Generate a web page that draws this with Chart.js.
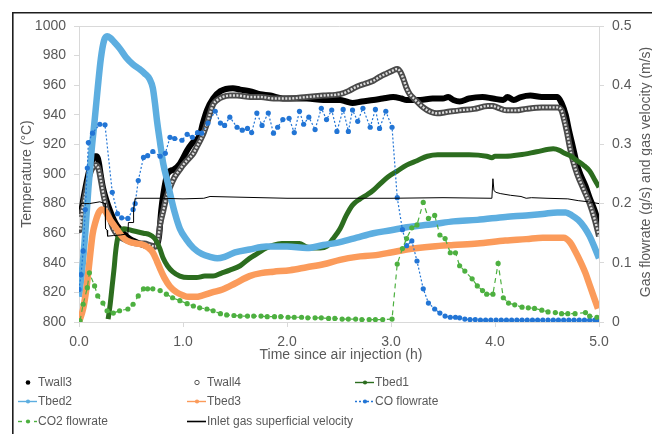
<!DOCTYPE html>
<html>
<head>
<meta charset="utf-8">
<script src="https://cdn.jsdelivr.net/npm/chart.js@4/dist/chart.umd.min.js"></script>
<style>
  html, body { margin: 0; padding: 0; background: #fff; }
  #wrap { width: 652px; height: 434px; }
</style>
</head>
<body>
<div id="wrap"><canvas id="c" width="652" height="434"></canvas></div>
<script>
// ---- axis ticks ----
const timeTicks = [0, 1, 2, 3, 4, 5];
const tempTicks = [800, 820, 840, 860, 880, 900, 920, 940, 960, 980, 1000];
const flowTicks = [0, 0.1, 0.2, 0.3, 0.4, 0.5];

// ---- wall temperatures (°C) ----
const twall3Time = [0, 0.004, 0.008, 0.012, 0.03, 0.06, 0.09, 0.12, 0.15, 0.17, 0.19, 0.21, 0.23, 0.26, 0.30, 0.35, 0.39, 0.44, 0.49, 0.55, 0.62, 0.68, 0.73, 0.75, 0.77, 0.79, 0.81, 0.85, 0.91, 0.97, 1.04, 1.09, 1.16, 1.19, 1.23, 1.29, 1.36, 1.48, 1.55, 1.64, 1.74, 1.84, 1.96, 2.10, 2.19, 2.35, 2.51, 2.57, 2.63, 2.72, 2.83, 2.92, 3.02, 3.10, 3.15, 3.28, 3.40, 3.50, 3.55, 3.60, 3.66, 3.75, 3.88, 3.98, 4.08, 4.12, 4.18, 4.25, 4.34, 4.45, 4.60, 4.64, 4.68, 4.71, 4.75, 4.79, 4.82, 4.87, 4.91, 4.96, 5.00];
const twall3Temp = [872, 864, 876, 867, 878, 890, 900, 908, 912, 912, 908, 899, 891, 883, 875, 867, 863, 859, 856, 854, 852, 851, 851, 852, 858, 875, 886, 900, 903, 907, 916, 921, 926, 934, 943, 951, 956, 958, 957, 956, 954, 953, 951, 951, 951, 950, 950, 949, 948, 949, 950, 951, 952, 951, 950, 950, 951, 951, 952, 950, 949, 951, 952, 951, 950, 952, 950, 952, 953, 952, 952, 948, 940, 930, 918, 906, 900, 892, 884, 875, 866];

const twall4Time = [0, 0.005, 0.01, 0.03, 0.05, 0.08, 0.11, 0.14, 0.17, 0.19, 0.21, 0.23, 0.26, 0.30, 0.33, 0.38, 0.43, 0.50, 0.56, 0.63, 0.68, 0.73, 0.76, 0.78, 0.81, 0.84, 0.875, 0.92, 0.97, 1.00, 1.05, 1.10, 1.13, 1.16, 1.20, 1.23, 1.26, 1.29, 1.33, 1.38, 1.45, 1.52, 1.65, 1.75, 1.87, 2.00, 2.19, 2.35, 2.51, 2.59, 2.67, 2.75, 2.83, 2.90, 2.96, 3.02, 3.06, 3.09, 3.12, 3.15, 3.18, 3.22, 3.25, 3.31, 3.38, 3.44, 3.55, 3.66, 3.80, 3.93, 3.98, 4.02, 4.11, 4.20, 4.30, 4.45, 4.60, 4.64, 4.66, 4.69, 4.72, 4.75, 4.79, 4.85, 4.91, 4.96, 5.00];
const twall4Temp = [866, 872, 862, 875, 882, 893, 901, 905, 906, 903, 896, 888, 878, 869, 863, 858, 856, 854, 853, 853, 852, 851, 856, 866, 875, 884, 891, 898, 903, 906, 910, 914, 918, 922, 928, 934, 941, 947, 950, 952, 953, 953, 952, 952, 951, 951, 952, 953, 954, 956, 959, 961, 963, 966, 968, 970, 971, 969, 964, 958, 954, 951, 949, 945, 942, 941, 942, 943, 944, 946, 946, 945, 943, 943, 944, 945, 945, 943, 938, 929, 918, 909, 900, 890, 880, 869, 858];

// ---- bed temperatures (°C) ----
const tbed1Time = [0.28, 0.30, 0.32, 0.34, 0.35, 0.37, 0.40, 0.43, 0.50, 0.56, 0.62, 0.68, 0.72, 0.75, 0.78, 0.81, 0.85, 0.90, 0.97, 1.05, 1.13, 1.21, 1.29, 1.37, 1.45, 1.55, 1.64, 1.71, 1.80, 1.87, 1.95, 2.03, 2.12, 2.18, 2.25, 2.32, 2.38, 2.44, 2.51, 2.57, 2.63, 2.70, 2.77, 2.83, 2.89, 2.97, 3.06, 3.15, 3.25, 3.35, 3.45, 3.60, 3.75, 3.92, 3.97, 4.00, 4.10, 4.24, 4.40, 4.56, 4.62, 4.67, 4.73, 4.79, 4.85, 4.91, 4.96, 5.00];
const tbed1Temp = [802, 812, 825, 838, 846, 856, 861, 863, 862, 861, 860, 859, 857, 854, 849, 843, 838, 834, 831, 830, 830, 831, 831, 833, 835, 838, 843, 846, 850, 852, 853, 853, 853, 851, 850, 850, 851, 856, 863, 872, 879, 883, 886, 889, 893, 898, 902, 906, 909, 912, 913, 913, 913, 912, 911, 912, 912, 913, 915, 917, 916, 914, 912, 909, 906, 902, 896, 891];

const tbed2Time = [0, 0.03, 0.06, 0.09, 0.12, 0.15, 0.18, 0.21, 0.24, 0.27, 0.30, 0.34, 0.39, 0.45, 0.52, 0.58, 0.63, 0.68, 0.71, 0.73, 0.75, 0.78, 0.81, 0.85, 0.875, 0.92, 0.97, 1.03, 1.10, 1.18, 1.26, 1.33, 1.40, 1.50, 1.64, 1.80, 2.00, 2.19, 2.35, 2.51, 2.67, 2.83, 3.00, 3.15, 3.40, 3.60, 3.83, 4.10, 4.30, 4.46, 4.60, 4.68, 4.74, 4.80, 4.86, 4.91, 4.96, 5.00];
const tbed2Temp = [817, 835, 860, 890, 915, 936, 958, 978, 990, 993, 992, 989, 985, 979, 974, 971, 968, 964, 958, 948, 936, 921, 907, 895, 887, 874, 863, 856, 850, 846, 844, 843, 844, 847, 849, 851, 851, 850, 852, 854, 857, 860, 862, 864, 866, 868, 869, 871, 872, 873, 874, 874, 872, 869, 864, 858, 850, 843];

const tbed3Time = [0, 0.04, 0.07, 0.09, 0.11, 0.13, 0.16, 0.19, 0.22, 0.25, 0.30, 0.35, 0.39, 0.44, 0.49, 0.56, 0.62, 0.67, 0.71, 0.75, 0.78, 0.82, 0.875, 0.94, 1.00, 1.05, 1.12, 1.19, 1.28, 1.38, 1.50, 1.64, 1.75, 1.87, 2.03, 2.19, 2.35, 2.51, 2.67, 2.83, 3.00, 3.15, 3.40, 3.60, 3.83, 4.10, 4.30, 4.46, 4.60, 4.66, 4.72, 4.77, 4.82, 4.87, 4.91, 4.95, 4.99];
const tbed3Temp = [800, 809, 822, 834, 847, 859, 868, 874, 876, 875, 869, 864, 860, 856, 854, 853, 852, 850, 847, 841, 836, 830, 824, 820, 818, 817, 817, 818, 820, 822, 826, 831, 833, 834, 835, 837, 839, 842, 844, 845, 847, 849, 851, 852, 853, 855, 856, 857, 857, 857, 854, 848, 841, 833, 825, 817, 809];

// ---- gas flowrates (g/s) ----
const coTime = [0, 0.02, 0.04, 0.06, 0.08, 0.09, 0.13, 0.20, 0.25, 0.32, 0.37, 0.41, 0.47, 0.52, 0.54, 0.57, 0.62, 0.66, 0.71, 0.78, 0.83, 0.875, 0.92, 0.99, 1.04, 1.09, 1.14, 1.18, 1.24, 1.31, 1.36, 1.40, 1.45, 1.52, 1.57, 1.62, 1.66, 1.71, 1.76, 1.82, 1.87, 1.91, 1.96, 2.02, 2.07, 2.12, 2.16, 2.21, 2.27, 2.33, 2.38, 2.43, 2.48, 2.54, 2.59, 2.63, 2.68, 2.73, 2.80, 2.85, 2.89, 2.95, 3.01, 3.06, 3.11, 3.15, 3.20, 3.25, 3.31, 3.36, 3.42, 3.47, 3.52, 3.57, 3.62, 3.66, 3.71, 3.76, 3.81, 3.86, 3.91, 3.96, 4.01, 4.06, 4.11, 4.16, 4.21, 4.26, 4.31, 4.36, 4.41, 4.46, 4.51, 4.56, 4.61, 4.66, 4.71, 4.76, 4.81, 4.86, 4.91, 4.96, 5.00];
const coFlow = [0.055, 0.08, 0.12, 0.19, 0.26, 0.303, 0.319, 0.334, 0.333, 0.219, 0.183, 0.176, 0.175, 0.19, 0.2, 0.239, 0.278, 0.281, 0.288, 0.28, 0.285, 0.312, 0.31, 0.307, 0.317, 0.312, 0.32, 0.319, 0.336, 0.356, 0.336, 0.332, 0.346, 0.329, 0.324, 0.327, 0.32, 0.353, 0.332, 0.353, 0.319, 0.329, 0.342, 0.344, 0.32, 0.356, 0.334, 0.346, 0.325, 0.361, 0.342, 0.358, 0.322, 0.359, 0.322, 0.358, 0.339, 0.361, 0.329, 0.359, 0.327, 0.356, 0.329, 0.21, 0.156, 0.129, 0.137, 0.103, 0.056, 0.032, 0.022, 0.015, 0.01, 0.008, 0.008, 0.007, 0.005, 0.004, 0.004, 0.003, 0.003, 0.003, 0.003, 0.003, 0.003, 0.003, 0.003, 0.003, 0.003, 0.003, 0.003, 0.003, 0.003, 0.003, 0.003, 0.003, 0.003, 0.003, 0.003, 0.003, 0.003, 0.003, 0.003];

const co2Time = [0.01, 0.04, 0.08, 0.10, 0.15, 0.18, 0.23, 0.27, 0.33, 0.39, 0.47, 0.52, 0.57, 0.62, 0.66, 0.71, 0.78, 0.84, 0.90, 0.97, 1.04, 1.10, 1.16, 1.23, 1.29, 1.36, 1.42, 1.49, 1.55, 1.62, 1.68, 1.75, 1.81, 1.88, 1.94, 2.01, 2.07, 2.14, 2.20, 2.27, 2.33, 2.40, 2.46, 2.53, 2.59, 2.66, 2.72, 2.79, 2.85, 2.92, 3.01, 3.06, 3.11, 3.15, 3.20, 3.25, 3.31, 3.36, 3.42, 3.47, 3.52, 3.57, 3.62, 3.66, 3.71, 3.78, 3.83, 3.88, 3.92, 3.98, 4.03, 4.08, 4.13, 4.19, 4.26, 4.32, 4.38, 4.45, 4.51, 4.58, 4.64, 4.70, 4.77, 4.87, 4.91, 4.98];
const co2Flow = [0.002, 0.03, 0.058, 0.083, 0.061, 0.044, 0.032, 0.019, 0.015, 0.019, 0.022, 0.03, 0.044, 0.056, 0.056, 0.056, 0.053, 0.047, 0.041, 0.036, 0.031, 0.027, 0.024, 0.022, 0.019, 0.014, 0.012, 0.011, 0.01, 0.01, 0.01, 0.01, 0.009, 0.009, 0.009, 0.008, 0.008, 0.008, 0.007, 0.007, 0.007, 0.006, 0.006, 0.005, 0.005, 0.005, 0.004, 0.004, 0.004, 0.004, 0.005, 0.098, 0.124, 0.141, 0.159, 0.164, 0.202, 0.175, 0.18, 0.147, 0.141, 0.117, 0.117, 0.095, 0.086, 0.073, 0.061, 0.053, 0.047, 0.047, 0.099, 0.041, 0.032, 0.029, 0.025, 0.024, 0.023, 0.02, 0.017, 0.016, 0.014, 0.014, 0.014, 0.016, 0.01, 0.008];

// ---- inlet gas superficial velocity (m/s) ----
const inletTime = [0, 0.02, 0.05, 0.10, 0.20, 0.25, 0.255, 0.27, 0.275, 0.33, 0.40, 0.47, 0.475, 0.52, 0.525, 0.54, 0.80, 1.00, 1.20, 1.26, 1.50, 2.00, 2.50, 3.00, 3.50, 3.97, 3.98, 3.99, 4.01, 4.05, 4.15, 4.25, 4.30, 4.35, 4.50, 4.70, 4.80, 4.90, 5.00];
const inletVel = [0.19, 0.2, 0.2, 0.2, 0.203, 0.2, 0.158, 0.155, 0.145, 0.146, 0.147, 0.149, 0.168, 0.168, 0.19, 0.209, 0.209, 0.208, 0.209, 0.212, 0.211, 0.209, 0.209, 0.209, 0.21, 0.209, 0.242, 0.222, 0.219, 0.217, 0.214, 0.212, 0.209, 0.21, 0.209, 0.208, 0.205, 0.203, 0.2];

const xTitle = 'Time since air injection (h)';
const leftTitle = 'Temperature (°C)';
const rightTitle = 'Gas flowrate (g/s) and gas velocity (m/s)';

const FONT = "'Liberation Sans', Arial, sans-serif";
const INK = '#595959';
const AXIS = '#d9d9d9';

const pts = (xs, ys) => xs.map((x, i) => ({ x, y: ys[i] }));

const C = {
  twall3: '#000000',
  twall4: '#4a4a4a',
  twall4Core: '#dcdcdc',
  tbed1: '#2c6d1f',
  tbed2: '#5daee0',
  tbed3: '#fb9b5b',
  co: '#2275d5',
  co2: '#4db040',
  inlet: '#000000'
};

const datasets = [
  { label: 'Twall3', data: pts(twall3Time, twall3Temp), yAxisID: 'y', borderColor: C.twall3, borderWidth: 6, pointRadius: 0, cubicInterpolationMode: 'monotone', order: 9 },
  // open-circle chain: dark rim with a broken light core
  { label: 'Twall4', data: pts(twall4Time, twall4Temp), yAxisID: 'y', borderColor: C.twall4, borderWidth: 6, pointRadius: 0, cubicInterpolationMode: 'monotone', order: 8 },
  { label: '', data: pts(twall4Time, twall4Temp), yAxisID: 'y', borderColor: C.twall4Core, borderWidth: 2.4, borderDash: [2, 1.5], pointRadius: 0, cubicInterpolationMode: 'monotone', order: 7 },
  { label: 'Tbed1', data: pts(tbed1Time, tbed1Temp), yAxisID: 'y', borderColor: C.tbed1, borderWidth: 5, pointRadius: 0, cubicInterpolationMode: 'monotone', order: 6 },
  { label: 'Tbed2', data: pts(tbed2Time, tbed2Temp), yAxisID: 'y', borderColor: C.tbed2, borderWidth: 6.5, pointRadius: 0, cubicInterpolationMode: 'monotone', order: 5 },
  { label: 'Tbed3', data: pts(tbed3Time, tbed3Temp), yAxisID: 'y', borderColor: C.tbed3, borderWidth: 6.5, pointRadius: 0, cubicInterpolationMode: 'monotone', order: 4 },
  { label: 'CO flowrate', data: pts(coTime, coFlow), yAxisID: 'y1', borderColor: C.co, backgroundColor: C.co, borderWidth: 1.2, borderDash: [2, 2], pointRadius: 2.6, pointBorderWidth: 0, pointBackgroundColor: C.co, tension: 0, order: 3 },
  { label: 'CO2 flowrate', data: pts(co2Time, co2Flow), yAxisID: 'y1', borderColor: C.co2, backgroundColor: C.co2, borderWidth: 1.2, borderDash: [5, 4], pointRadius: 2.6, pointBorderWidth: 0, pointBackgroundColor: C.co2, tension: 0, order: 2 },
  { label: 'Inlet gas superficial velocity', data: pts(inletTime, inletVel), yAxisID: 'y1', borderColor: C.inlet, borderWidth: 1, pointRadius: 0, tension: 0, order: 1 }
];

// legend grid: three columns, three rows
const legendItems = [
  { label: 'Twall3', kind: 'dot', color: C.twall3 },
  { label: 'Twall4', kind: 'ring', color: '#555555' },
  { label: 'Tbed1', kind: 'line', color: C.tbed1, dash: [] },
  { label: 'Tbed2', kind: 'line', color: C.tbed2, dash: [] },
  { label: 'Tbed3', kind: 'line', color: C.tbed3, dash: [] },
  { label: 'CO flowrate', kind: 'line', color: C.co, dash: [2, 2] },
  { label: 'CO2 flowrate', kind: 'line', color: C.co2, dash: [4, 4] },
  { label: 'Inlet gas superficial velocity', kind: 'plain', color: C.inlet, dash: [] }
];
const legendCols = [18, 187, 355];
const legendRows = [382, 401, 421];

const decor = {
  id: 'decor',
  beforeDraw(chart) {
    const ctx = chart.ctx;
    ctx.save();
    ctx.fillStyle = '#ffffff';
    ctx.fillRect(0, 0, chart.width, chart.height);
    ctx.restore();
  },
  afterDraw(chart) {
    const ctx = chart.ctx, a = chart.chartArea;
    ctx.save();
    // outer frame
    ctx.strokeStyle = '#1e1e1e';
    ctx.lineWidth = 1.6;
    ctx.beginPath();
    ctx.moveTo(12.8, chart.height);
    ctx.lineTo(12.8, 12.8);
    ctx.lineTo(chart.width, 12.8);
    ctx.stroke();

    // axis titles
    ctx.fillStyle = INK;
    ctx.font = `14px ${FONT}`;
    ctx.textAlign = 'center';
    ctx.textBaseline = 'middle';
    ctx.fillText(xTitle, (a.left + a.right) / 2 + 2, 355);
    ctx.save();
    ctx.translate(27, (a.top + a.bottom) / 2);
    ctx.rotate(-Math.PI / 2);
    ctx.fillText(leftTitle, 0, 0);
    ctx.restore();
    ctx.save();
    ctx.translate(646, (a.top + a.bottom) / 2 - 2);
    ctx.rotate(-Math.PI / 2);
    ctx.fillText(rightTitle, 0, 0);
    ctx.restore();

    // legend
    ctx.font = `12px ${FONT}`;
    ctx.textAlign = 'left';
    legendItems.forEach((it, i) => {
      const x0 = legendCols[i % 3], y = legendRows[Math.floor(i / 3)];
      const xm = x0 + 10;
      if (it.kind === 'line' || it.kind === 'plain') {
        ctx.save();
        ctx.strokeStyle = it.color;
        ctx.lineWidth = it.kind === 'plain' ? 1.6 : 1.4;
        ctx.setLineDash(it.dash);
        ctx.beginPath();
        ctx.moveTo(x0, y + 0.5);
        ctx.lineTo(x0 + 19, y + 0.5);
        ctx.stroke();
        ctx.restore();
      }
      if (it.kind === 'dot' || it.kind === 'line') {
        ctx.beginPath();
        ctx.arc(xm, y + 0.5, it.kind === 'dot' ? 2.3 : 2.1, 0, Math.PI * 2);
        ctx.fillStyle = it.color;
        ctx.fill();
      }
      if (it.kind === 'ring') {
        ctx.beginPath();
        ctx.arc(xm, y + 0.5, 2.2, 0, Math.PI * 2);
        ctx.strokeStyle = it.color;
        ctx.lineWidth = 1;
        ctx.stroke();
      }
      ctx.fillStyle = INK;
      ctx.fillText(it.label, x0 + 20, y + 0.5);
    });
    ctx.restore();
  }
};

const tickFont = { family: FONT, size: 14 };

new Chart(document.getElementById('c'), {
  type: 'line',
  data: { datasets },
  options: {
    responsive: false,
    animation: false,
    devicePixelRatio: 1,
    layout: { padding: { top: 26, left: 0, right: 0, bottom: 0 } },
    plugins: { legend: { display: false }, tooltip: { enabled: false } },
    scales: {
      x: {
        type: 'linear', min: 0, max: 5,
        afterBuildTicks: s => { s.ticks = timeTicks.map(v => ({ value: v })); },
        afterFit: s => { s.height = 112; },
        ticks: { callback: v => v.toFixed(1), color: INK, font: tickFont, padding: 7, maxRotation: 0, autoSkip: false },
        grid: { drawOnChartArea: false, tickLength: 5, tickColor: AXIS },
        border: { color: AXIS }
      },
      y: {
        position: 'left', min: 800, max: 1000,
        afterBuildTicks: s => { s.ticks = tempTicks.map(v => ({ value: v })); },
        afterFit: s => { s.width = 79; },
        ticks: { color: INK, font: tickFont, padding: 8, callback: v => String(v) },
        grid: { color: c => (c.tick && c.tick.value === 1000) ? AXIS : 'rgba(0,0,0,0)', tickLength: 5, tickColor: AXIS },
        border: { color: AXIS }
      },
      y1: {
        position: 'right', min: 0, max: 0.5,
        afterBuildTicks: s => { s.ticks = flowTicks.map(v => ({ value: v })); },
        afterFit: s => { s.width = 53; },
        ticks: { color: INK, font: tickFont, padding: 8, callback: v => String(v) },
        grid: { drawOnChartArea: false, tickLength: 5, tickColor: AXIS },
        border: { color: AXIS }
      }
    }
  },
  plugins: [decor]
});
</script>
</body>
</html>
